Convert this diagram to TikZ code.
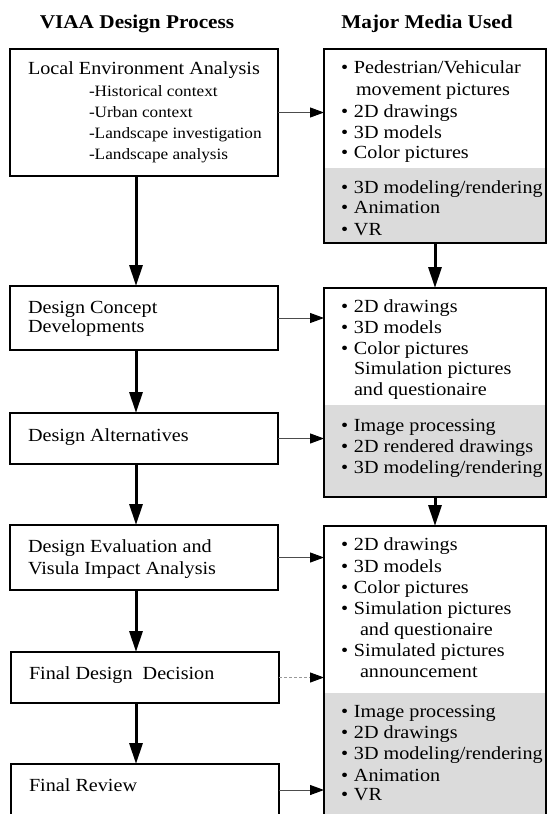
\documentclass[tikz,border=0pt]{standalone}
\usepackage{fontspec}
\setmainfont{Liberation Serif}[FakeStretch=1.09]
\usetikzlibrary{arrows.meta,backgrounds}
\newcommand\bu{\makebox[13pt][l]{•}}
\begin{document}
\begin{tikzpicture}[x=1pt,y=-1pt,
  lbox/.style={draw, line width=2.6pt, rectangle, inner sep=0pt, outer sep=0pt, anchor=north west, minimum width=268pt},
  rbox/.style={draw, line width=2.6pt, rectangle, inner sep=0pt, outer sep=0pt, anchor=north west, minimum width=222pt},
  txt/.style={anchor=base west, inner sep=0pt, outer sep=0pt, font=\fontsize{18.5}{21}\selectfont},
  subtxt/.style={anchor=base west, inner sep=0pt, outer sep=0pt, font=\fontsize{15.8}{18}\selectfont},
  hdr/.style={anchor=base, inner sep=0pt, font=\fontsize{19.5}{22}\selectfont\bfseries},
  varrow/.style={line width=3pt, -{Triangle[length=21pt,width=13pt]}},
  harrow/.style={line width=1pt, black!70, -{Triangle[length=14pt,width=10pt,color=black]}},
  shadebg/.style={fill=black!14}
]
\useasboundingbox (0,0) rectangle (548,814);
\clip (0,0) rectangle (548,814);
% headers
\node[hdr] (h1) at (137,28) {VIAA Design Process};
\node[hdr] (h2) at (427,28) {Major Media Used};
% left boxes
\node[lbox, minimum height=127pt] (b1) at (10,49) {};
\node[lbox, minimum height=64pt] (b2) at (10,286) {};
\node[lbox, minimum height=51pt] (b3) at (10,413) {};
\node[lbox, minimum height=65pt] (b4) at (10,525) {};
\node[lbox, minimum height=51pt] (b5) at (11,652) {};
\node[lbox, minimum height=52pt] (b6) at (11,764) {};
% right boxes
\node[rbox, minimum height=194pt] (r1) at (324,49) {};
\node[rbox, minimum height=209pt] (r2) at (324,288) {};
\node[rbox, minimum height=300pt] (r3) at (324,526) {};
\begin{scope}[on background layer]
  \fill[white] (0,0) rectangle (548,814);
  \fill[shadebg] (r1.west |- 0,168) rectangle (r1.south east);
  \fill[shadebg] (r2.west |- 0,405) rectangle (r2.south east);
  \fill[shadebg] (r3.west |- 0,693) rectangle (r3.south east);
\end{scope}
% left texts
\node[txt] (t1) at (28,74) {Local Environment Analysis};
\node[subtxt] (t1a) at (89,96.5) {-Historical context};
\node[subtxt] (t1b) at (89,117.5) {-Urban context};
\node[subtxt] (t1c) at (89,138.5) {-Landscape investigation};
\node[subtxt] (t1d) at (89,159.5) {-Landscape analysis};
\node[txt] (t2a) at (28,313.5) {Design Concept};
\node[txt] (t2b) at (28,332) {Developments};
\node[txt] (t3) at (28,441) {Design Alternatives};
\node[txt] (t4a) at (28,552) {Design Evaluation and};
\node[txt] (t4b) at (28,574) {Visula Impact Analysis};
\node[txt] (t5) at (29,679) {Final Design\ \ Decision};
\node[txt] (t6) at (29,791) {Final Review};
% right box 1
\node[txt] (m1a) at (341,73.5) {\bu Pedestrian/Vehicular};
\node[txt] (m1b) at (356,95.5) {movement pictures};
\node[txt] (m1c) at (341,117.5) {\bu 2D drawings};
\node[txt] (m1d) at (341,138.5) {\bu 3D models};
\node[txt] (m1e) at (341,158.5) {\bu Color pictures};
\node[txt] (m1f) at (341,193.5) {\bu 3D modeling/rendering};
\node[txt] (m1g) at (341,213.5) {\bu Animation};
\node[txt] (m1h) at (341,235.5) {\bu VR};
% right box 2
\node[txt] (m2a) at (341,312.5) {\bu 2D drawings};
\node[txt] (m2b) at (341,333.5) {\bu 3D models};
\node[txt] (m2c) at (341,354) {\bu Color pictures};
\node[txt] (m2d) at (354,374.5) {Simulation pictures};
\node[txt] (m2e) at (354,395.5) {and questionaire};
\node[txt] (m2f) at (341,431.5) {\bu Image processing};
\node[txt] (m2g) at (341,452.5) {\bu 2D rendered drawings};
\node[txt] (m2h) at (341,473) {\bu 3D modeling/rendering};
% right box 3
\node[txt] (m3a) at (341,550.5) {\bu 2D drawings};
\node[txt] (m3b) at (341,572.5) {\bu 3D models};
\node[txt] (m3c) at (341,593.5) {\bu Color pictures};
\node[txt] (m3d) at (341,614.5) {\bu Simulation pictures};
\node[txt] (m3e) at (360,635.5) {and questionaire};
\node[txt] (m3f) at (341,656.5) {\bu Simulated pictures};
\node[txt] (m3g) at (360,677.5) {announcement};
\node[txt] (m3h) at (341,717.5) {\bu Image processing};
\node[txt] (m3i) at (341,738.5) {\bu 2D drawings};
\node[txt] (m3j) at (341,759.5) {\bu 3D modeling/rendering};
\node[txt] (m3k) at (341,781.5) {\bu Animation};
\node[txt] (m3l) at (341,800.5) {\bu VR};
% arrows
\coordinate (cl) at (136,0);
\draw[varrow] (b1.south -| cl) -- (b2.north -| cl);
\draw[varrow] (b2.south -| cl) -- (b3.north -| cl);
\draw[varrow] (b3.south -| cl) -- (b4.north -| cl);
\draw[varrow] (b4.south -| cl) -- (b5.north -| cl);
\draw[varrow] (b5.south -| cl) -- (b6.north -| cl);
\draw[varrow] (r1.south) -- (r2.north);
\draw[varrow] (r2.south) -- (r3.north);
\draw[harrow] (b1.east) -- (b1.east -| r1.west);
\draw[harrow] (b2.east) -- (b2.east -| r2.west);
\draw[harrow] (b3.east) -- (b3.east -| r2.west);
\draw[harrow] (b4.east) -- (b4.east -| r3.west);
\draw[harrow, black!40, densely dashed] (b5.east) -- (b5.east -| r3.west);
\draw[harrow] (b6.east) -- (b6.east -| r3.west);
\end{tikzpicture}
\end{document}
